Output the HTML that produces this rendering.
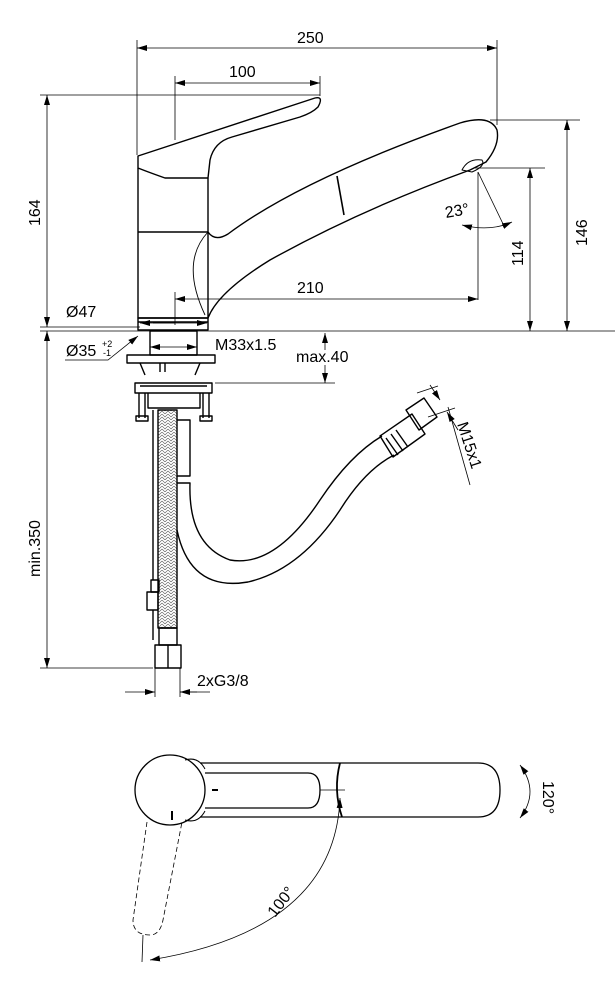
<!DOCTYPE html>
<html><head><meta charset="utf-8"><style>
html,body{margin:0;padding:0;background:#fff}
svg{display:block}
text{font-family:"Liberation Sans",sans-serif;fill:#000}
</style></head><body>
<svg width="615" height="1000" viewBox="0 0 615 1000" xmlns="http://www.w3.org/2000/svg">
<defs>
<marker id="a" viewBox="0 0 10 6" refX="10" refY="3" markerWidth="10" markerHeight="6" orient="auto-start-reverse" markerUnits="userSpaceOnUse"><path d="M0,0L10,3L0,6z" fill="#000"/></marker>
<pattern id="br" width="6" height="6" patternUnits="userSpaceOnUse"><path d="M0,0L3,3L6,0M0,3L3,6L6,3" stroke="#555" stroke-width="0.6" fill="none"/></pattern>
</defs>
<g stroke="#000" stroke-width="0.8" fill="none">
<line x1="137" y1="40" x2="137" y2="155"/>
<line x1="497" y1="40" x2="497" y2="125"/>
<line x1="175" y1="76" x2="175" y2="140"/>
<line x1="320" y1="76" x2="320" y2="96"/>
<line x1="40" y1="95" x2="320" y2="95"/>
<line x1="490" y1="120" x2="580" y2="120"/>
<line x1="475" y1="168" x2="545" y2="168"/>
<line x1="40" y1="331" x2="615" y2="331"/>
<line x1="40" y1="327" x2="140" y2="327"/>
<line x1="478" y1="172" x2="478" y2="300"/>
<line x1="175" y1="292" x2="175" y2="325"/>
<line x1="40" y1="668" x2="153" y2="668"/>
<line x1="215" y1="383" x2="335" y2="383"/>
<line x1="137" y1="48" x2="497" y2="48" marker-start="url(#a)" marker-end="url(#a)"/>
<line x1="175" y1="83" x2="320" y2="83" marker-start="url(#a)" marker-end="url(#a)"/>
<line x1="47" y1="95" x2="47" y2="327" marker-start="url(#a)" marker-end="url(#a)"/>
<line x1="47" y1="331" x2="47" y2="668" marker-start="url(#a)" marker-end="url(#a)"/>
<line x1="567" y1="120" x2="567" y2="331" marker-start="url(#a)" marker-end="url(#a)"/>
<line x1="530" y1="168" x2="530" y2="331" marker-start="url(#a)" marker-end="url(#a)"/>
<line x1="175" y1="299" x2="478" y2="299" marker-start="url(#a)" marker-end="url(#a)"/>
<line x1="140" y1="323" x2="207" y2="323" marker-start="url(#a)" marker-end="url(#a)"/>
<line x1="150" y1="347" x2="197" y2="347" marker-start="url(#a)" marker-end="url(#a)"/>
<line x1="325" y1="333" x2="325" y2="350" marker-start="url(#a)"/>
<line x1="325" y1="365" x2="325" y2="383" marker-end="url(#a)"/>
<line x1="125" y1="692" x2="155" y2="692" marker-end="url(#a)"/>
<line x1="210" y1="692" x2="180" y2="692" marker-end="url(#a)"/>
<line x1="155" y1="668" x2="155" y2="697"/><line x1="180" y1="668" x2="180" y2="697"/>
<line x1="180" y1="692" x2="197" y2="692"/>
<line x1="153" y1="323" x2="175" y2="323"/>
<polyline points="65,360 108,360 138,336" marker-end="url(#a)"/>
<path d="M478,172 L505,228"/>
<path d="M462,225 Q490,232 512,222" marker-start="url(#a)" marker-end="url(#a)"/>
<line x1="417" y1="393" x2="438" y2="386"/><line x1="428" y1="417" x2="455" y2="408"/>
<line x1="430" y1="385" x2="440" y2="400" marker-end="url(#a)"/>
<line x1="458" y1="430" x2="447" y2="412" marker-end="url(#a)"/>
<line x1="448" y1="407" x2="470" y2="485"/>
</g>
<g stroke="#000" stroke-width="1.4" fill="none" stroke-linejoin="round">
<path d="M138,156 L315,98 Q324,96 318,107 Q312,113 300,117 L232,137 Q214,142 210,160 L208,178 L165,178 Q148,172 138,168 Z"/>
<path d="M138,168 L138,318 L208,318 L208,178"/>
<line x1="138" y1="232" x2="208" y2="232"/>
<path d="M208,232 Q215,242 228,234 Q300,180 460,123 Q490,114 497,130 Q500,145 486,162 L470,170 Q360,210 270,260 Q218,292 208,318"/>
<path d="M208,232 Q180,262 205,315" stroke-width="0.9"/>
<path d="M337,176 L344,215" stroke-width="1.6"/>
<path d="M462,170 Q468,158 482,160 Q486,166 472,172 Z" stroke-width="1"/>
<rect x="138" y="318" width="70" height="12"/>
<line x1="138" y1="322" x2="208" y2="322"/>
<rect x="150" y="331" width="47" height="24"/>
<path d="M127,355 L215,355 L215,363 L127,363 Z"/>
<path d="M140,363 L145,375 M200,363 L195,375 M160,363 L160,372 M165,363 L165,372"/>
<path d="M135,383 L212,383 L212,393 L135,393 Z M140,386 L207,386"/>
<path d="M148,393 L148,408 L200,408 L200,393"/>
<path d="M139,393 L139,418 M145,393 L145,418 M203,393 L203,418 M209,393 L209,418"/>
<rect x="136" y="416" width="12" height="5"/><rect x="200" y="416" width="12" height="5"/>
<rect x="158" y="410" width="19" height="218" fill="url(#br)"/>
<line x1="153" y1="410" x2="153" y2="580"/>
<rect x="151" y="580" width="8" height="12"/><rect x="147" y="592" width="11" height="18"/>
<line x1="153" y1="610" x2="153" y2="640"/>
<rect x="159" y="628" width="18" height="17"/>
<rect x="155" y="645" width="26" height="23"/>
<line x1="168" y1="645" x2="168" y2="668"/>
<path d="M177,420 L190,420 L190,476 L177,476"/>
<path d="M177,483 L190,483 Q188,545 230,560 Q275,568 320,500 Q350,455 382,436"/>
<path d="M177,530 Q190,592 248,582 Q300,570 340,510 Q365,470 394,455"/>
<path d="M380,436 L412,414 L425,434 L393,457 Z"/>
<path d="M406,410 L424,398 L437,417 L419,430 Z"/>
<path d="M386,438 L398,455 M391,434 L403,451 M396,430 L408,447"/>
</g>
<g stroke="#000" stroke-width="1.3" fill="none">
<path d="M200,763 L478,763 Q500,763 500,790 Q500,817 478,817 L200,817"/>
<circle cx="170" cy="790" r="35"/>
<path d="M185,760 Q198,756 205,769 M185,820 Q198,824 205,811" stroke-width="1"/>
<path d="M205,773 L308,773 Q320,773 320,790 Q320,808 308,808 L205,808"/>
<path d="M340,763 Q333,790 342,817" stroke-width="1.8"/>
<line x1="212" y1="790" x2="218" y2="790" stroke-width="2"/>
<line x1="172" y1="811" x2="172" y2="820" stroke-width="2"/>
<line x1="320" y1="790" x2="345" y2="790" stroke-width="0.8"/>
<path d="M147,822 L133,920 Q133,935 150,935 Q160,935 163,920 L182,822" stroke-dasharray="5,3" stroke-width="0.8"/>
<path d="M340,798 Q335,930 150,960" stroke-width="0.8" marker-start="url(#a)" marker-end="url(#a)"/>
<line x1="143" y1="935" x2="142" y2="962" stroke-width="0.8"/>
<path d="M520,765 Q540,792 520,818" stroke-width="0.8" marker-start="url(#a)" marker-end="url(#a)"/>
</g>
<g font-size="16">
<text x="297" y="43">250</text>
<text x="229" y="77">100</text>
<text x="297" y="293">210</text>
<text x="66" y="317">Ø47</text>
<text x="66" y="356">Ø35</text>
<text x="102" y="347" font-size="9">+2</text>
<text x="103" y="356" font-size="9">-1</text>
<text x="215" y="350">M33x1.5</text>
<text x="296" y="362">max.40</text>
<text x="197" y="686">2xG3/8</text>
<text x="446" y="218" transform="rotate(-10 446 218)">23°</text>
<text transform="translate(40,226) rotate(-90)">164</text>
<text transform="translate(40,577) rotate(-90)">min.350</text>
<text transform="translate(523,266) rotate(-90)">114</text>
<text transform="translate(587,246) rotate(-90)">146</text>
<text transform="translate(457,424) rotate(72)">M15x1</text>
<text transform="translate(543,781) rotate(90)">120°</text>
<text transform="translate(275,918) rotate(-52)">100°</text>
</g>
</svg>
</body></html>
